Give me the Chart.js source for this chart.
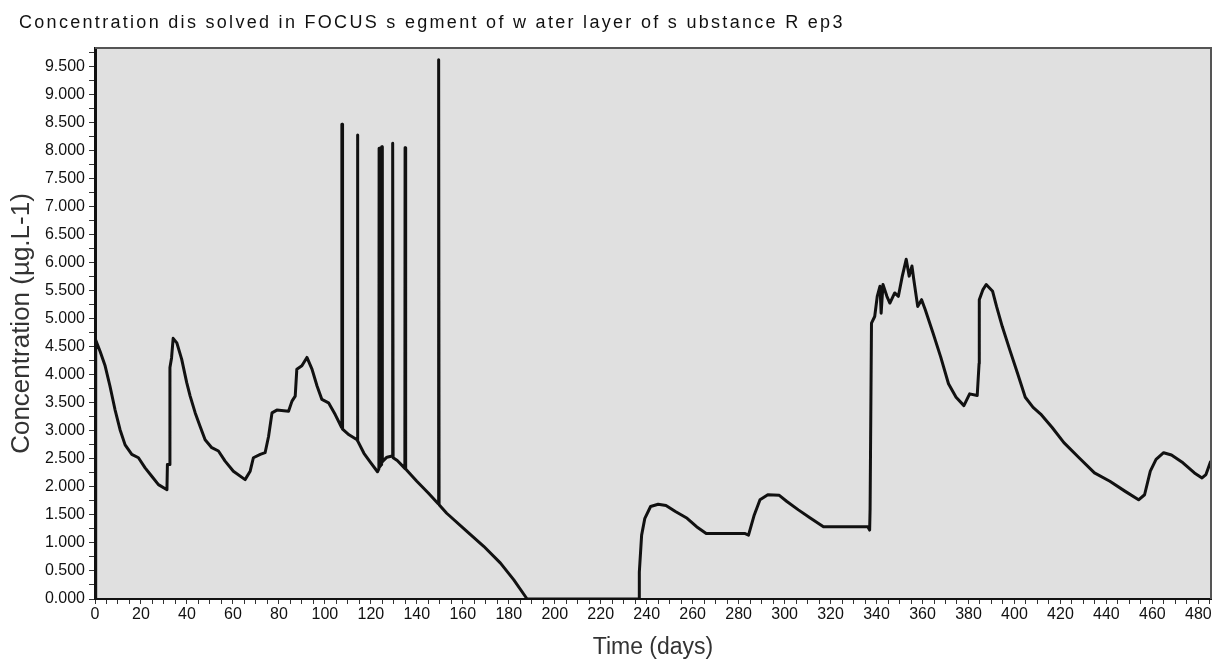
<!DOCTYPE html>
<html>
<head>
<meta charset="utf-8">
<script src="https://cdn.jsdelivr.net/npm/chart.js@4.4.1/dist/chart.umd.min.js"></script>
<style>
html,body{margin:0;padding:0;background:#fff}
#wrap{width:1219px;height:664px;position:relative}
</style>
</head>
<body>
<div id="wrap"><canvas id="chartConc"></canvas></div>
<script>
const chartTitle = 'Concentration dis solved in FOCUS s egment of w ater layer of s ubstance R ep3';
const yTitle = 'Concentration (µg.L-1)';
const xTitle = 'Time (days)';

// time (days) and dissolved concentration
const days = [
  0, 0.3, 2.2, 4.4, 6.5, 8.7, 10.9, 13.1, 16, 18.9, 21.8, 24.7, 27.6, 31.3, 31.5, 32.4, 32.6, 33.3, 34.0, 35.6,
  37.7, 39.9, 41.4, 43.6, 45.7, 47.9, 50.8, 53.7, 56.6, 60.2, 65.3, 67.5, 68.9, 71.9, 74, 75.5, 77, 79.1, 84.2, 85.7,
  87.1, 87.8, 90, 92.2, 94.4, 96.6, 98.7, 101.6, 104.5, 107.3, 107.4, 107.6, 107.7, 110.5, 114.0, 114.1, 114.3, 114.4, 117, 120,
  122.9, 123.5, 123.6, 123.8, 123.9, 124.6, 124.7, 124.9, 125.0, 127, 129.3, 129.4, 129.6, 129.7, 131.5, 134.8, 134.9, 135.1, 135.2, 140,
  145, 149.3, 149.4, 149.6, 149.7, 153, 161.9, 169.1, 176.4, 182.2, 187.3, 188, 236.7, 236.8, 237.8, 239.2, 241.7, 245, 248.4, 252.5,
  257.6, 261.7, 265.9, 282.6, 284.3, 286.8, 289.3, 292.7, 297.7, 301, 306, 311, 316.9, 336.2, 337, 337.2, 337.8, 339.2, 340.3, 341.5,
  342, 342.8, 344.5, 345.8, 347.9, 349.5, 351.2, 352.9, 354.2, 355.4, 356.2, 357.9, 359.6, 361.2, 364.6, 367.9, 371.3, 374.6, 378, 380.5,
  383.8, 384.6, 384.7, 386.3, 387.7, 390.5, 392.2, 394.7, 398, 401.4, 404.7, 408.1, 411.4, 416.4, 421.5, 428.1, 434.8, 441.5, 448.2, 454,
  456.6, 459.1, 461.6, 464.9, 468.3, 473.3, 478.3, 481.6, 483.3, 485.4
];
const conc = [
  0, 4.62, 4.42, 4.16, 3.80, 3.38, 3.02, 2.75, 2.58, 2.52, 2.34, 2.19, 2.04, 1.95, 2.40, 2.40, 4.13, 4.30, 4.65, 4.57,
  4.28, 3.86, 3.62, 3.32, 3.08, 2.84, 2.70, 2.64, 2.46, 2.28, 2.13, 2.28, 2.52, 2.58, 2.61, 2.90, 3.32, 3.37, 3.35, 3.53,
  3.62, 4.10, 4.16, 4.31, 4.10, 3.80, 3.56, 3.50, 3.29, 3.06, 8.47, 8.47, 3.03, 2.93, 2.84, 8.28, 8.28, 2.82, 2.60, 2.43,
  2.27, 2.32, 8.04, 8.04, 2.36, 2.40, 8.07, 8.07, 2.45, 2.53, 2.55, 8.13, 8.13, 2.52, 2.47, 2.33, 8.05, 8.05, 2.32, 2.10,
  1.89, 1.70, 9.62, 9.62, 1.68, 1.53, 1.20, 0.94, 0.64, 0.34, 0.04, 0, 0, 0.48, 1.14, 1.44, 1.65, 1.69, 1.67, 1.56,
  1.44, 1.29, 1.17, 1.17, 1.14, 1.50, 1.77, 1.86, 1.85, 1.74, 1.59, 1.45, 1.29, 1.29, 1.23, 1.62, 4.92, 5.04, 5.40, 5.58,
  5.10, 5.61, 5.40, 5.28, 5.46, 5.40, 5.76, 6.06, 5.76, 5.94, 5.70, 5.22, 5.34, 5.16, 4.74, 4.32, 3.84, 3.60, 3.45, 3.66,
  3.63, 4.20, 5.34, 5.52, 5.61, 5.49, 5.22, 4.86, 4.44, 4.02, 3.60, 3.42, 3.30, 3.06, 2.79, 2.52, 2.25, 2.10, 1.92, 1.77,
  1.86, 2.28, 2.49, 2.61, 2.57, 2.43, 2.25, 2.16, 2.22, 2.46
];

const xMax = 485.5, xStep = 5, xLabelEvery = 20;
const yMax = 9.83, yStep = 0.25, yLabelEvery = 0.5;

function isMultiple(v, m){ return Math.abs(v/m - Math.round(v/m)) < 1e-6; }
function makeTicks(max, step){
  const t = [];
  for(let i=0; i*step<=max+1e-9; i++) t.push({value: +(i*step).toFixed(4)});
  return t;
}

const plotFrame = {
  id: 'plotFrame',
  beforeDraw(chart){
    const {ctx, chartArea:a} = chart;
    ctx.save();
    ctx.fillStyle = '#e0e0e0';
    ctx.fillRect(a.left, a.top, a.right-a.left, a.bottom-a.top);
    ctx.restore();
  },
  afterDraw(chart){
    const {ctx, chartArea:a} = chart;
    ctx.save();
    ctx.strokeStyle = '#555'; ctx.lineWidth = 2;
    ctx.beginPath(); ctx.moveTo(a.left, a.top); ctx.lineTo(a.right, a.top); ctx.lineTo(a.right, a.bottom); ctx.stroke();
    // title (drawn here so the letter spacing of the original can be kept)
    ctx.font = '18px "Liberation Sans", Arial, sans-serif';
    ctx.letterSpacing = '2.3px';
    ctx.fillStyle = '#111';
    ctx.textBaseline = 'alphabetic';
    ctx.fillText(chartTitle, 19, 28);
    ctx.restore();
  }
};

const tickFont = {family: '"Liberation Sans", Arial, sans-serif', size: 16};

new Chart(document.getElementById('chartConc'), {
  type: 'line',
  data: {
    datasets: [{
      data: days.map((d,i)=>({x:d, y:conc[i]})),
      borderColor: '#111', borderWidth: 3, borderJoinStyle: 'round',
      pointRadius: 0, tension: 0, fill: false
    }]
  },
  options: {
    responsive: true, maintainAspectRatio: false, animation: false,
    layout: { padding: {left: 6, right: 8, top: 48, bottom: 0} },
    plugins: { legend: {display:false}, tooltip: {enabled:false}, title: {display:false} },
    scales: {
      x: {
        type: 'linear', min: 0, max: xMax,
        afterBuildTicks: s => { s.ticks = makeTicks(xMax, xStep); },
        afterFit: s => { s.height = 65; },
        ticks: { autoSkip: false, maxRotation: 0, font: tickFont, color: '#111', padding: 1,
          callback: v => isMultiple(v, xLabelEvery) ? String(Math.round(v)) : '' },
        grid: { drawOnChartArea: false, tickLength: 5, tickColor: '#333', tickWidth: 1 },
        border: { color: '#111', width: 2 },
        title: { display: true, text: xTitle, color: '#333',
          font: {family: '"Liberation Sans", Arial, sans-serif', size: 23}, padding: {top: 0, bottom: 3} }
      },
      y: {
        type: 'linear', min: 0, max: yMax,
        afterBuildTicks: s => { s.ticks = makeTicks(yMax, yStep); },
        afterFit: s => { s.width = 89; },
        ticks: { autoSkip: false, font: tickFont, color: '#111', padding: 4,
          callback: v => isMultiple(v, yLabelEvery) ? v.toFixed(3) : '' },
        grid: { drawOnChartArea: false, tickLength: 6, tickColor: '#333', tickWidth: 1 },
        border: { color: '#111', width: 3 },
        title: { display: true, text: yTitle, color: '#333',
          font: {family: '"Liberation Sans", Arial, sans-serif', size: 26}, padding: {top: 0, bottom: 0} }
      }
    }
  },
  plugins: [plotFrame]
});
</script>
</body>
</html>
